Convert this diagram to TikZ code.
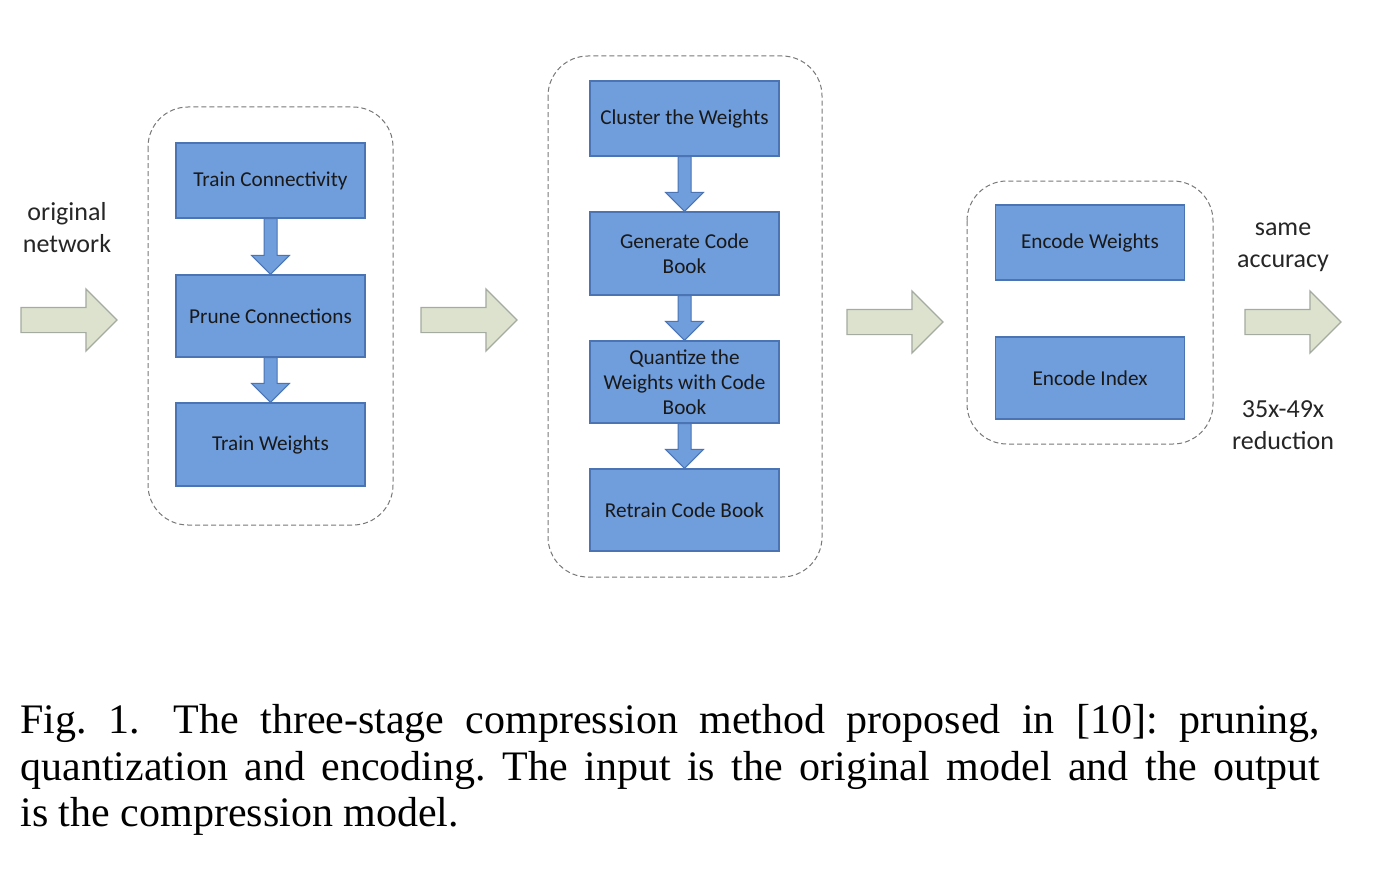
\documentclass[tikz,border=0pt]{standalone}
\usepackage{fontspec}
\setmainfont{Liberation Serif}
\newfontfamily\boxfont{Carlito}
\usetikzlibrary{calc,shapes.arrows}

\definecolor{blkfill}{RGB}{112,157,219}
\definecolor{blkline}{RGB}{74,116,180}
\definecolor{grnfill}{RGB}{220,226,206}
\definecolor{grnline}{RGB}{164,171,160}
\definecolor{dashgray}{RGB}{120,120,120}

\tikzset{
  blk/.style={draw=blkline,fill=blkfill,line width=0.6pt,minimum width=94.5pt,
    align=center,font=\boxfont\fontsize{10.6}{12.5}\selectfont,text=black!90},
  stage/.style={draw=dashgray,line width=0.5pt,dash pattern=on 2.5pt off 1.5pt,rounded corners=20pt},
  flow/.style={single arrow,draw=grnline,fill=grnfill,line width=0.6pt,anchor=tip,
    minimum height=48pt,inner xsep=0pt,inner ysep=6pt,single arrow head extend=9.25pt,
    outer sep=0pt},
  side/.style={align=center,font=\boxfont\fontsize{13}{16}\selectfont,text=black!85}
}

% block arrow pointing down, from one box to the next
\newcommand{\blkdown}[2]{%
  \draw[blkline,fill=blkfill,line width=0.5pt]
    ($(#1.south)+(-6.5,0)$) -- ($(#2.north)+(-6.5,-19)$) -- ($(#2.north)+(-19,-19)$)
    -- (#2.north) -- ($(#2.north)+(19,-19)$) -- ($(#2.north)+(6.5,-19)$)
    -- ($(#1.south)+(6.5,0)$) -- cycle;}

\begin{document}
\begin{tikzpicture}[x=0.5pt,y=-0.5pt]
\useasboundingbox[fill=white] (0,0) rectangle (1374,872);

% stage frames
\draw[stage] (148,107) rectangle (393,525);
\draw[stage] (548,56) rectangle (822,577);
\draw[stage] (967,181) rectangle (1213,444);

% pruning
\node[blk,minimum height=37.5pt] (tc) at (270.5,180.5) {Train Connectivity};
\node[blk,minimum height=41pt] (pc) at (270.5,316) {Prune Connections};
\node[blk,minimum height=41.5pt] (tw) at (270.5,444.5) {Train Weights};
\blkdown{tc}{pc}
\blkdown{pc}{tw}

% quantization
\node[blk,minimum height=37.5pt] (cw) at (684.5,118.5) {Cluster the Weights};
\node[blk,minimum height=41.5pt] (gc) at (684.5,253.5) {Generate Code\\Book};
\node[blk,minimum height=41pt] (qw) at (684.5,382) {Quantize the\\Weights with Code\\Book};
\node[blk,minimum height=41pt] (rc) at (684.5,510) {Retrain Code Book};
\blkdown{cw}{gc}
\blkdown{gc}{qw}
\blkdown{qw}{rc}

% encoding
\node[blk,minimum height=37.5pt] (ew) at (1090,242.5) {Encode Weights};
\node[blk,minimum height=41pt] (ei) at (1090,378) {Encode Index};

% flow between stages
\node[flow] (in) at (117,320) {};
\node[flow] (s12) at (517,320) {};
\node[flow] (s23) at (943,322) {};
\node[flow] (out) at (1341,322) {};

\node[side] (orig) at (67,228) {original\\network};
\node[side] (acc) at (1283,247) {same\\accuracy};
\node[side] (red) at (1283,425) {35x-49x\\reduction};

% caption
\node[anchor=north west,inner sep=0pt,text width=650pt,align=justify,
  font=\fontsize{21}{23.25}\selectfont] (cap) at (20,704)
  {\frenchspacing Fig.~1.\hspace{0.3em} The three-stage compression method proposed in [10]: pruning,\linebreak
   quantization and encoding. The input is the original model and the output\linebreak
   is the compression model.};
\end{tikzpicture}
\end{document}
